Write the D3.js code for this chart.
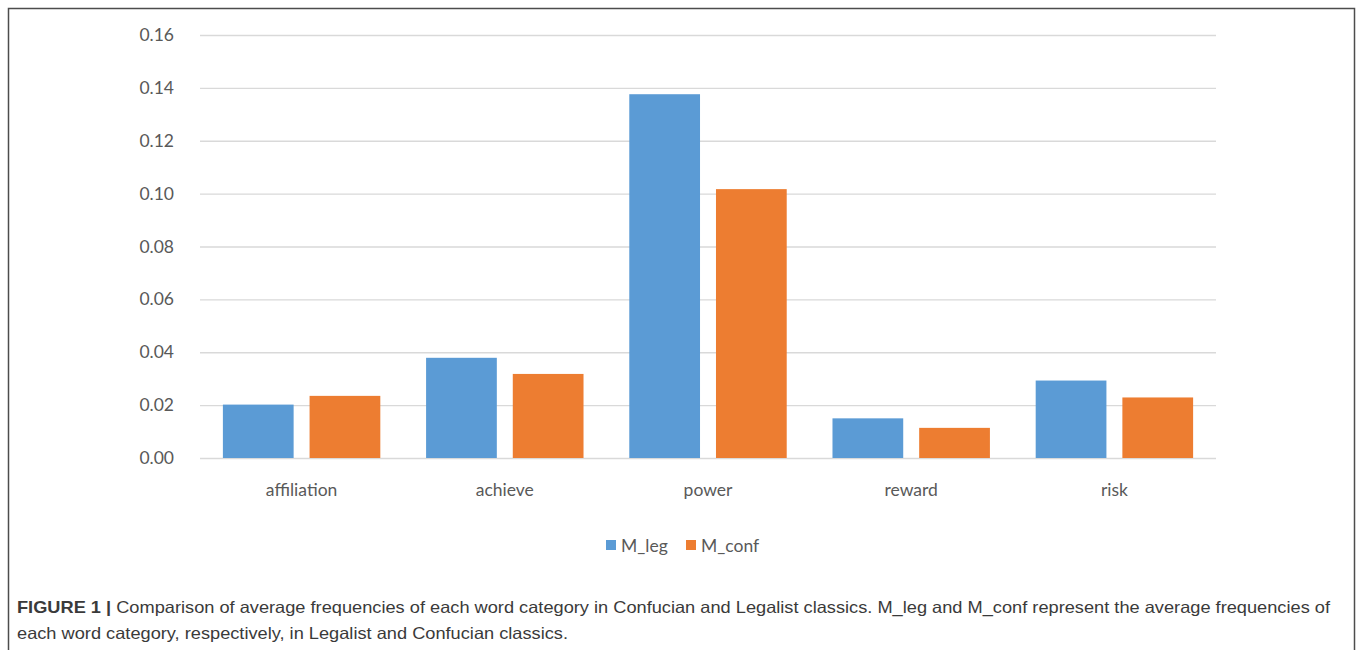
<!DOCTYPE html>
<html>
<head>
<meta charset="utf-8">
<script src="https://cdn.jsdelivr.net/npm/d3@7"></script>
<style>
  body { margin: 0; background: #fff; }
  svg { display: block; }
</style>
</head>
<body>
<div id="chart"></div>
<script>
// data
const categories = ["affiliation", "achieve", "power", "reward", "risk"];
const seriesNames = ["M_leg", "M_conf"];
const mLeg  = [0.0202, 0.0379, 0.1376, 0.0150, 0.0293];
const mConf = [0.0235, 0.0318, 0.1017, 0.0114, 0.0229];
const yTicks = [0, 0.02, 0.04, 0.06, 0.08, 0.10, 0.12, 0.14, 0.16];
const colors = ["#5B9BD5", "#ED7D31"];

const width = 1358, height = 650;
const margin = { top: 35, right: 142, bottom: 193, left: 200 };
const labelFont = 'Lato, "Open Sans", sans-serif';

const svg = d3.select('#chart')
  .append('svg')
  .attr('width', width)
  .attr('height', height);

// outer frame
svg.append('rect')
  .attr('x', 8.5).attr('y', 8.5)
  .attr('width', 1346).attr('height', 700)
  .attr('fill', 'none')
  .attr('stroke', '#4d4d4d')
  .attr('stroke-width', 1.5);

const xScale = d3.scaleBand()
  .domain(categories)
  .range([margin.left, width - margin.right]);

const xInner = d3.scaleBand()
  .domain(seriesNames)
  .range([0, xScale.bandwidth()])
  .paddingInner(0.184)
  .paddingOuter(0.264);

const yScale = d3.scaleLinear()
  .domain([0, 0.16])
  .range([height - margin.bottom + 1, margin.top]);

// gridlines
const grid = svg.append('g')
  .attr('transform', `translate(${margin.left}, 0)`)
  .call(d3.axisLeft(yScale)
    .tickValues(yTicks)
    .tickSize(-(width - margin.left - margin.right))
    .tickFormat(''));
grid.select('.domain').remove();
grid.selectAll('line').attr('stroke', '#d9d9d9').attr('stroke-width', 1.3);

// y labels
const yAxis = svg.append('g')
  .attr('transform', `translate(${margin.left - 23}, 0)`)
  .call(d3.axisLeft(yScale).tickValues(yTicks).tickSize(0).tickFormat(d3.format('.2f')));
yAxis.select('.domain').remove();
yAxis.selectAll('text')
  .attr('fill', '#595959')
  .style('font-family', labelFont)
  .style('font-size', '17.5px');

// bars
const groups = svg.append('g')
  .selectAll('g')
  .data(categories)
  .join('g')
  .attr('transform', d => `translate(${xScale(d)}, 0)`);

groups.selectAll('rect')
  .data((d, i) => [mLeg[i], mConf[i]].map((v, j) => ({ key: seriesNames[j], value: v })))
  .join('rect')
  .attr('x', d => xInner(d.key))
  .attr('width', xInner.bandwidth())
  .attr('y', d => yScale(d.value))
  .attr('height', d => yScale(0) - yScale(d.value))
  .attr('fill', (d, j) => colors[j]);

// x labels
const xAxis = svg.append('g')
  .attr('transform', `translate(0, ${yScale(0) + 23})`)
  .call(d3.axisBottom(xScale).tickSize(0));
xAxis.select('.domain').remove();
xAxis.selectAll('text')
  .attr('fill', '#595959')
  .style('font-family', labelFont)
  .style('font-size', '17.5px');

// legend
const legend = svg.append('g').attr('transform', 'translate(606, 545)');
const legX = [0, 80];
seriesNames.forEach((name, i) => {
  legend.append('rect')
    .attr('x', legX[i]).attr('y', -5)
    .attr('width', 10).attr('height', 10)
    .attr('fill', colors[i]);
  legend.append('text')
    .attr('x', legX[i] + 15).attr('y', 6.5)
    .attr('fill', '#595959')
    .style('font-family', labelFont)
    .style('font-size', '17.5px')
    .text(name);
});

// caption
const cap1 = svg.append('text')
  .attr('x', 17).attr('y', 613)
  .attr('fill', '#3a3a3a')
  .style('font-family', '"Liberation Sans", Arial, sans-serif')
  .style('font-size', '16.5px');
cap1.append('tspan').attr('font-weight', 'bold').text('FIGURE 1 | ');
cap1.append('tspan').text('Comparison of average frequencies of each word category in Confucian and Legalist classics. M_leg and M_conf represent the average frequencies of');

const cap2 = svg.append('text')
  .attr('x', 17).attr('y', 639)
  .attr('fill', '#3a3a3a')
  .style('font-family', '"Liberation Sans", Arial, sans-serif')
  .style('font-size', '16.5px')
  .text('each word category, respectively, in Legalist and Confucian classics.');

const natural = cap1.node().getComputedTextLength();
const ratio = 1313 / natural;
cap1.attr('textLength', 1313).attr('lengthAdjust', 'spacingAndGlyphs');
cap2.attr('textLength', cap2.node().getComputedTextLength() * ratio)
  .attr('lengthAdjust', 'spacingAndGlyphs');
</script>
</body>
</html>
